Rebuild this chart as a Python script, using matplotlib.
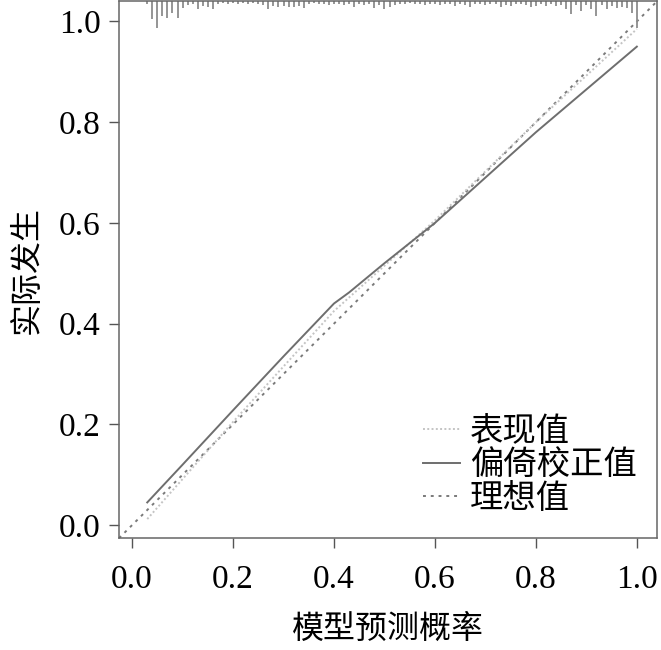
import numpy as np
import matplotlib
matplotlib.use("Agg")
import matplotlib.pyplot as plt
from matplotlib.lines import Line2D

plt.rcParams['font.family'] = ['Liberation Serif', 'Noto Sans CJK SC', 'DejaVu Sans']

# 偏倚校正曲线
corr_x = [0.03, 0.10, 0.20, 0.30, 0.40, 0.43, 0.50, 0.60, 0.70, 0.80, 0.90, 1.00]
corr_y = [0.045, 0.120, 0.228, 0.335, 0.440, 0.462, 0.520, 0.600, 0.690, 0.780, 0.865, 0.950]

# 表现值曲线
app_x = [0.03, 0.20, 0.40, 0.60, 0.80, 1.00]
app_y = [0.012, 0.205, 0.425, 0.605, 0.800, 0.985]

# 顶部预测概率分布（尖峰长度，估计值）
spike_freq = [3, 18, 27, 15, 17, 12, 17, 7, 4, 3,
              8, 5, 6, 8, 3, 2, 3, 2, 3, 2,
              3, 2, 3, 4, 8, 5, 6, 5, 6, 6,
              5, 7, 3, 2, 3, 3, 4, 3, 3, 4,
              3, 6, 3, 4, 3, 7, 4, 8, 6, 4,
              3, 3, 2, 3, 3, 4, 3, 3, 4, 3,
              3, 5, 3, 4, 6, 3, 3, 4, 3, 3,
              6, 4, 5, 3, 3, 4, 6, 5, 3, 5,
              3, 5, 4, 8, 13, 4, 10, 4, 8, 15,
              4, 8, 5, 7, 6, 7, 12, 27]
spike_x = [round(0.03 + 0.01 * i, 2) for i in range(len(spike_freq))]

ticks = [0.0, 0.2, 0.4, 0.6, 0.8, 1.0]
tick_labels = ['0.0', '0.2', '0.4', '0.6', '0.8', '1.0']

fig = plt.figure(figsize=(6.61, 6.5), dpi=100)
ax = fig.add_axes([0.18, 0.172, 0.814, 0.826])
xlim = (-0.026, 1.04)
ylim = (-0.026, 1.04)

# 理想值
ax.plot(xlim, ylim, color='#7a7a7a', linestyle=(0, (1.5, 2.5)), linewidth=1.4)
ax.plot(app_x, app_y, color='#c4c4c4', linestyle=(0, (1, 1.2)), linewidth=1.4)
ax.plot(corr_x, corr_y, color='#6e6e6e', linewidth=1.4)

top = ylim[1]
lengths = np.array(spike_freq) * 0.002
ax.vlines(spike_x, top - lengths, top, color='#8c8c8c', linewidth=1.3)

ax.set_xlim(xlim)
ax.set_ylim(ylim)
ax.set_xticks(ticks)
ax.set_xticklabels(tick_labels)
ax.set_yticks(ticks)
ax.set_yticklabels(tick_labels)
ax.tick_params(direction='out', length=7, width=1, color='#555555',
               labelsize=24, pad=6)
ax.tick_params(axis='x', pad=12)
for s in ax.spines.values():
    s.set_color('#666666')
    s.set_linewidth(1.1)

ax.set_xlabel('模型预测概率', fontsize=23, family=['Noto Sans CJK SC'], labelpad=13)
ax.set_ylabel('实际发生', fontsize=23, family=['Noto Sans CJK SC'], labelpad=12)

handles = [
    Line2D([], [], color='#c4c4c4', linestyle=(0, (1, 1.2)), linewidth=1.4),
    Line2D([], [], color='#6e6e6e', linewidth=1.4),
    Line2D([], [], color='#7a7a7a', linestyle=(0, (1.5, 2.5)), linewidth=1.4),
]
leg = ax.legend(handles, ['表现值', '偏倚校正值', '理想值'], loc='lower right',
                bbox_to_anchor=(1.0, 0.005), frameon=False,
                prop={'family': 'Noto Sans CJK SC', 'size': 24},
                handlelength=1.1, handletextpad=0.3, labelspacing=-0.05,
                borderaxespad=0.2)

fig.savefig('out.png', dpi=100)
